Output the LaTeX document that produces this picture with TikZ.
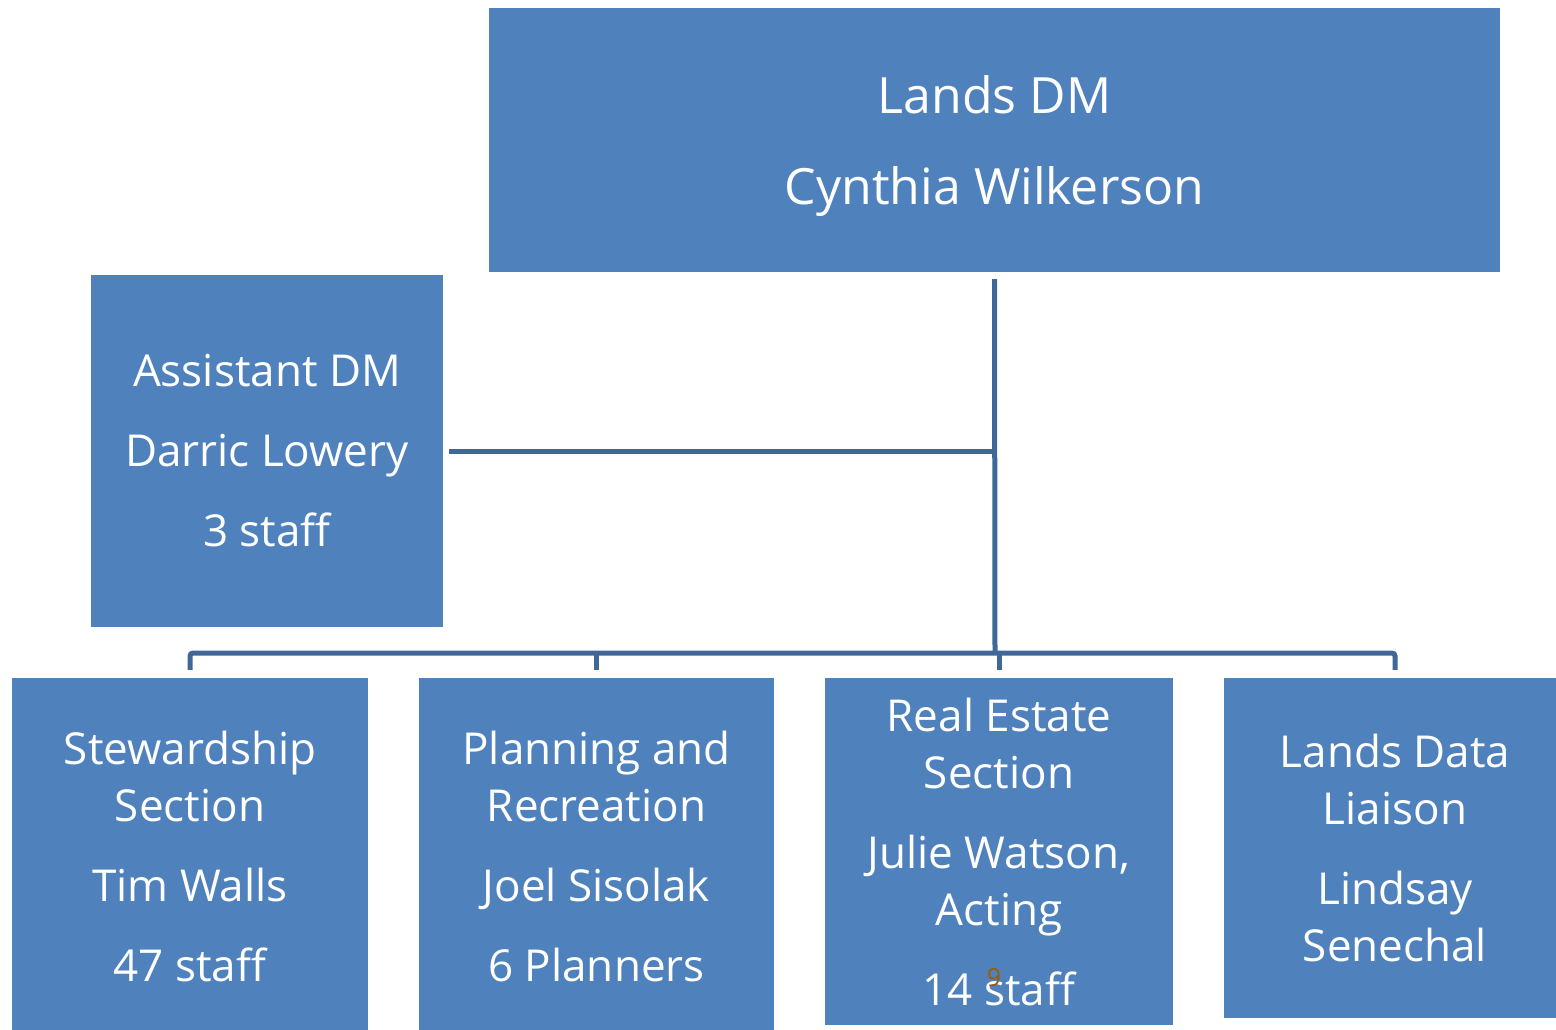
\documentclass[tikz,border=0pt]{standalone}
\usepackage{fontspec}
\setmainfont{Open Sans}
\usepackage{xcolor}
\usepackage{tikz}
\usetikzlibrary{positioning, calc}

\definecolor{boxblue}{HTML}{4F81BD}
\definecolor{linkblue}{HTML}{3F6797}
\definecolor{notebrown}{HTML}{9C5B00}

\begin{document}
\begin{tikzpicture}[
  x=1pt,
  y=-1pt,
  font=\fontsize{44}{57}\selectfont,
  orgbox/.style={
    rectangle,
    fill=boxblue,
    draw=none,
    text=white,
    align=center,
    inner sep=0pt
  },
  linkline/.style={
    draw=linkblue,
    line width=5pt,
    rounded corners=3pt
  }
]

\useasboundingbox (0,0) rectangle (1556,1030);

\node[orgbox, minimum width=1011pt, minimum height=264pt, font=\fontsize{50}{57}\selectfont, text depth=0pt] (landsdm) at (994.5,140) {
  Lands DM\\[34pt]
  Cynthia Wilkerson
};

\node[orgbox, minimum width=352pt, minimum height=352pt] (assistant) at (267,451) {
  Assistant DM\\[23pt]
  Darric Lowery\\[23pt]
  3 staff
};

\node[orgbox, minimum width=356pt, minimum height=356pt] (stewardship) at (190,856) {
  Stewardship\\
  Section\\[23pt]
  Tim Walls\\[23pt]
  47 staff
};

\node[orgbox, minimum width=355pt, minimum height=356pt] (planning) at (596.5,856) {
  Planning and\\
  Recreation\\[23pt]
  Joel Sisolak\\[23pt]
  6 Planners
};

\node[orgbox, minimum width=348pt, minimum height=347pt] (realestate) at (999,851.5) {
  Real Estate\\
  Section\\[23pt]
  Julie Watson,\\
  Acting\\[23pt]
  14 staff
};

\node[orgbox, minimum width=342pt, minimum height=340pt] (datalisaison) at (1395,848) {
  Lands Data\\
  Liaison\\[23pt]
  Lindsay\\
  Senechal
};

\node[font=\fontsize{25}{30}\selectfont, text=notebrown] (pagenum) at (994,978) {9};

\coordinate (bus) at (995,653);

\draw[linkline] ($(landsdm.south)+(0,7)$) -- (bus);
\draw[linkline] ($(assistant.east)+(6,0)$) -- (assistant.east -| bus);
\draw[linkline] ($(stewardship.north)+(0,-8)$) |- (bus) -| ($(datalisaison.north)+(0,-8)$);
\draw[linkline] ($(planning.north)+(0,-8)$) -- (planning.north |- bus);
\draw[linkline] ($(realestate.north)+(0,-8)$) -- (realestate.north |- bus);

\end{tikzpicture}
\end{document}
